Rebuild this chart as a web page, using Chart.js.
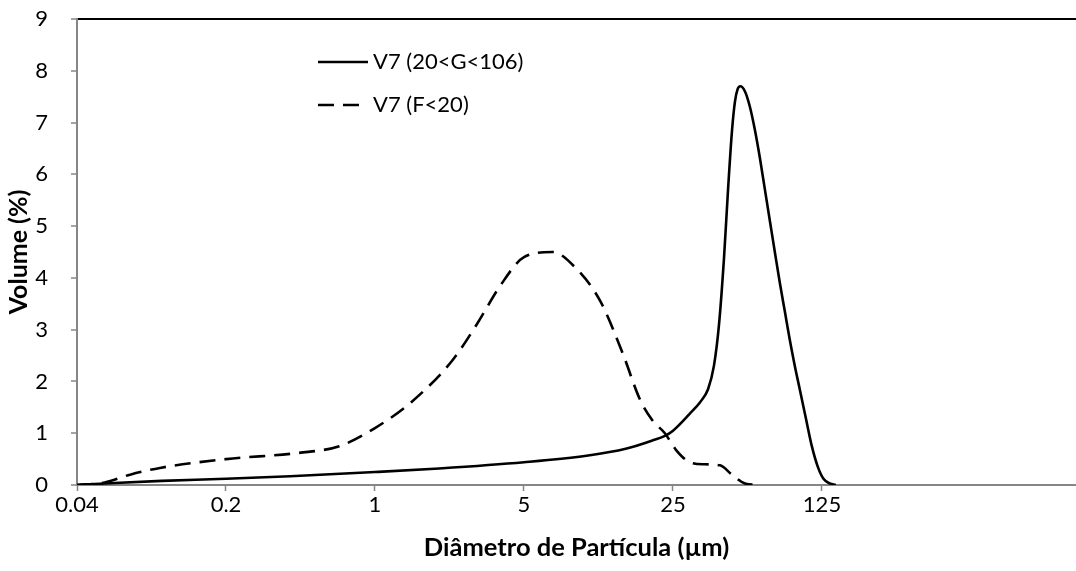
<!DOCTYPE html>
<html>
<head>
<meta charset="utf-8">
<script src="https://cdn.jsdelivr.net/npm/chart.js@4.4.1/dist/chart.umd.min.js"></script>
<style>
  html, body { margin: 0; padding: 0; background: #fff; overflow: hidden; }
  #wrap { width: 1076px; height: 571px; position: relative; }
</style>
</head>
<body>
<div id="wrap"><canvas id="c" width="1076" height="571"></canvas></div>
<script>
// ---- data ----
const xTickValues = [0.04, 0.2, 1, 5, 25, 125];
const xTickLabels = ["0.04", "0.2", "1", "5", "25", "125"];
const yTickValues = [0, 1, 2, 3, 4, 5, 6, 7, 8, 9];

const seriesNames = ["V7 (20<G<106)", "V7 (F<20)"];

// V7 (20<G<106) — solid
const coarseDiam = [0.04, 0.06, 0.1, 0.2, 0.4, 1, 2, 5, 10, 15, 20, 22.9, 25, 30, 33.5, 36.5, 38.9, 41.1, 43.4, 45.3, 47.3, 48.8, 50.2, 51.7, 54.4, 57.4, 60.6, 64, 67.5, 71.2, 75.1, 79.3, 83.7, 88.3, 93.2, 98.3, 104.9, 112, 119.5, 127, 136, 145];
const coarseVol  = [0, 0.04, 0.08, 0.12, 0.17, 0.25, 0.32, 0.44, 0.57, 0.7, 0.86, 0.95, 1.05, 1.38, 1.6, 1.85, 2.3, 3.1, 4.4, 5.7, 6.85, 7.4, 7.64, 7.7, 7.6, 7.3, 6.85, 6.3, 5.7, 5.1, 4.5, 3.9, 3.35, 2.8, 2.3, 1.85, 1.3, 0.75, 0.35, 0.12, 0.03, 0];

// V7 (F<20) — dashed
const fineDiam = [0.04, 0.054, 0.071, 0.098, 0.2, 0.44, 0.68, 1, 1.48, 2.3, 3.0, 3.87, 5, 6.8, 8.7, 11.4, 14.5, 17.5, 20, 22.9, 25.8, 30, 35.3, 41.5, 47.3, 54.4, 64];
const fineVol  = [0, 0.05, 0.2, 0.33, 0.5, 0.62, 0.75, 1.1, 1.6, 2.4, 3.1, 3.85, 4.4, 4.5, 4.2, 3.55, 2.55, 1.65, 1.25, 1.0, 0.68, 0.44, 0.4, 0.38, 0.2, 0.03, 0];

const FONT = "Lato, 'Noto Sans', sans-serif";
const AXIS_GRAY = "#868686";

function pts(xs, ys) { return xs.map((x, i) => ({ x: x, y: ys[i] })); }

const innerLegend = {
  id: "innerLegend",
  afterDraw(chart) {
    const ctx = chart.ctx;
    const lx = 318, lw = 50, tx = 373, rows = [62, 105];
    ctx.save();
    chart.data.datasets.forEach((ds, i) => {
      const y = rows[i];
      ctx.beginPath();
      ctx.setLineDash(ds.borderDash || []);
      ctx.lineWidth = ds.borderWidth;
      ctx.strokeStyle = ds.borderColor;
      ctx.moveTo(lx, y);
      ctx.lineTo(lx + lw, y);
      ctx.stroke();
      ctx.setLineDash([]);
      ctx.fillStyle = "#000";
      ctx.font = "22px " + FONT;
      ctx.textBaseline = "middle";
      ctx.textAlign = "left";
      ctx.fillText(ds.label, tx, y);
    });
    ctx.restore();
  }
};

new Chart(document.getElementById("c"), {
  type: "line",
  data: {
    datasets: [
      { label: seriesNames[0], data: pts(coarseDiam, coarseVol), borderColor: "#000", borderWidth: 2.6, pointRadius: 0, cubicInterpolationMode: "monotone", fill: false },
      { label: seriesNames[1], data: pts(fineDiam, fineVol), borderColor: "#000", borderWidth: 2.6, borderDash: [16, 9], pointRadius: 0, cubicInterpolationMode: "monotone", fill: false }
    ]
  },
  options: {
    responsive: false,
    animation: false,
    layout: { padding: { top: 19, right: 0, left: 0, bottom: 0 } },
    plugins: { legend: { display: false }, tooltip: { enabled: false } },
    scales: {
      x: {
        type: "logarithmic",
        min: 0.04,
        max: 1943,
        afterBuildTicks(scale) { scale.ticks = xTickValues.map(v => ({ value: v })); },
        afterFit(scale) { scale.height = 86; },
        ticks: {
          autoSkip: false, maxRotation: 0,
          color: "#000",
          font: { family: FONT, size: 22 },
          padding: 1,
          callback: (v) => { const i = xTickValues.indexOf(v); return i >= 0 ? xTickLabels[i] : ""; }
        },
        grid: { drawOnChartArea: false, drawTicks: true, tickLength: 6, tickColor: AXIS_GRAY, tickWidth: 1.5 },
        border: { display: true, color: AXIS_GRAY, width: 2 },
        title: { display: true, text: "Diâmetro de Partícula (µm)", color: "#000", font: { family: FONT, size: 25.5, weight: "bold" }, padding: { top: 4, bottom: 8 } }
      },
      y: {
        min: 0, max: 9,
        afterBuildTicks(scale) { scale.ticks = yTickValues.map(v => ({ value: v })); },
        afterFit(scale) { scale.width = 77; scale.paddingTop = 0; scale.paddingBottom = 0; },
        ticks: { color: "#000", font: { family: FONT, size: 22 }, padding: 23 },
        grid: {
          drawOnChartArea: true, drawTicks: true, tickLength: 6,
          color: (c) => (c.tick && c.tick.value === 9 ? "#000" : "rgba(0,0,0,0)"),
          lineWidth: (c) => (c.tick && c.tick.value === 9 ? 2 : 0),
          tickColor: AXIS_GRAY, tickWidth: 1.5
        },
        border: { display: true, color: AXIS_GRAY, width: 2 },
        title: { display: true, text: "Volume (%)", color: "#000", font: { family: FONT, size: 25, weight: "bold" }, padding: { top: 4, bottom: 0 } }
      }
    }
  },
  plugins: [innerLegend]
});
</script>
</body>
</html>
